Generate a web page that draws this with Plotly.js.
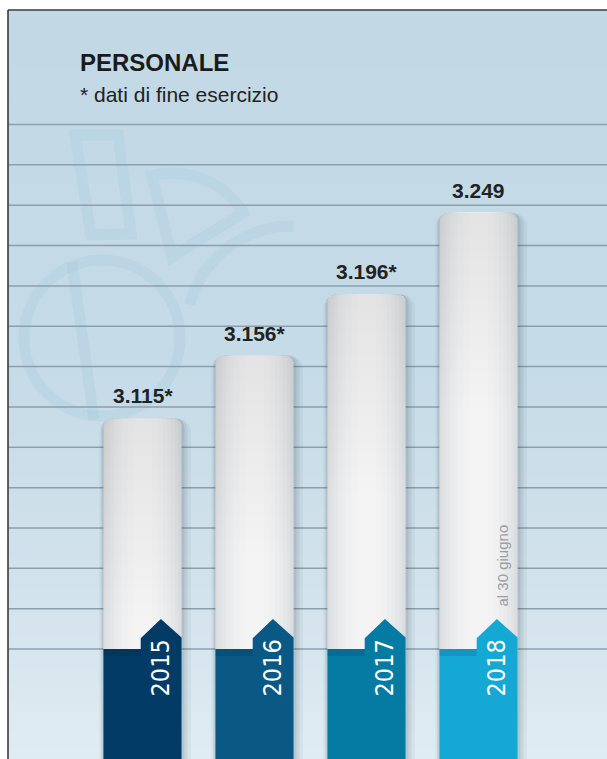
<!DOCTYPE html>
<html>
<head>
<meta charset="utf-8">
<script src="https://cdn.plot.ly/plotly-3.0.1.min.js"></script>
<style>
html,body{margin:0;padding:0;background:#fff;}
#chart{width:607px;height:759px;}
</style>
</head>
<body>
<div id="chart"></div>
<script>
// ---- data ----
const years = ['2015', '2016', '2017', '2018'];
const values = [3115, 3156, 3196, 3249];
const valueLabels = ['3.115*', '3.156*', '3.196*', '3.249'];
const yearColors = ['#023c66', '#0a5884', '#037ba3', '#14a8d4'];
const titleText = 'PERSONALE';
const subtitleText = '* dati di fine esercizio';
const noteText = 'al 30 giugno';

// ---- page geometry helpers ----
const W = 607, H = 759, ML = 8, MT = 10;
const PW = W - ML, PH = H - MT;
const py = p => (H - p) / PH;      // pixel y -> paper y
const pxp = p => (p - ML) / PW;    // pixel x -> paper x

const xs = years.map((_, i) => i);
const barW = 0.698;

// ---- traces ----
const traces = [];
function barLayer(width, color, radius, shift, heights, bases) {
  const t = {
    type: 'bar', x: xs, y: heights || values, width: width,
    offset: -width / 2 + (shift || 0),
    marker: {color: color, cornerradius: radius, line: {width: 0}},
    hoverinfo: 'skip', showlegend: false
  };
  if (bases) t.base = bases;
  traces.push(t);
}
// soft drop shadow
barLayer(barW + 0.12, 'rgba(30,55,75,0.05)', 14, 0.024);
barLayer(barW + 0.075, 'rgba(30,55,75,0.07)', 12, 0.016);
barLayer(barW + 0.035, 'rgba(30,55,75,0.10)', 10, 0.009);
// white bar body with a soft horizontal sheen
const layerW = [barW, 0.64, 0.58, 0.51, 0.44, 0.36, 0.27, 0.17];
const layerC = ['#dcdde0', '#e1e2e4', '#e5e6e8', '#e9eaeb', '#ecedee', '#eff0f1', '#f2f2f3', '#f4f4f5'];
layerW.forEach((w, k) => barLayer(w, layerC[k], Math.max(3, 8 - k), 0));
// slight greying toward the top of each bar
for (let d = 8; d <= 130; d += 8) {
  barLayer(barW, 'rgba(105,110,120,0.007)', 8, 0, values.map(() => d), values.map(v => v - d));
}

// ---- shapes ----
const shapes = [];
function hex2rgb(h) { return [1, 3, 5].map(i => parseInt(h.substr(i, 2), 16)); }
const stops = [[10, '#c2d9e5'], [360, '#c5dbe7'], [600, '#d3e3ec'], [759, '#e0ecf3']];
function bgAt(p) {
  for (let s = 0; s < stops.length - 1; s++) {
    const [a, ca] = stops[s], [b, cb] = stops[s + 1];
    if (p <= b) {
      const t = Math.max(0, (p - a) / (b - a));
      const A = hex2rgb(ca), B = hex2rgb(cb);
      return 'rgb(' + A.map((v, j) => Math.round(v + (B[j] - v) * t)).join(',') + ')';
    }
  }
  return stops[stops.length - 1][1];
}
for (let p = 10; p < 759; p += 6) {
  shapes.push({type: 'rect', xref: 'paper', yref: 'paper', x0: 0, x1: 1,
    y0: py(Math.min(759, p + 7)), y1: py(p), fillcolor: bgAt(p + 3),
    line: {width: 0}, layer: 'below'});
}
// faint logo watermark (pixel coordinates converted to paper)
const wm = {color: 'rgba(160,198,218,0.24)', width: 11};
function P(pts, close) {
  return pts.map((q, j) => (j ? 'L ' : 'M ') + pxp(q[0]) + ',' + py(q[1])).join(' ') + (close ? ' Z' : '');
}
shapes.push({type: 'path', xref: 'paper', yref: 'paper', layer: 'below', line: wm,
  path: P([[75, 135], [118, 135], [131, 234], [91, 235]], true)});
shapes.push({type: 'circle', xref: 'paper', yref: 'paper', layer: 'below', line: wm,
  x0: pxp(24), x1: pxp(180), y0: py(416), y1: py(260)});
shapes.push({type: 'path', xref: 'paper', yref: 'paper', layer: 'below', line: wm,
  path: P([[72, 262], [94, 420]], false)});
(function () {
  const cx = 172, cy = 257, r = 84, pts = [[cx, cy]];
  for (let a = -104; a <= -30; a += 4) {
    const t = a * Math.PI / 180;
    pts.push([cx + r * Math.cos(t), cy + r * Math.sin(t)]);
  }
  shapes.push({type: 'path', xref: 'paper', yref: 'paper', layer: 'below', line: wm, path: P(pts, true)});
  const cx2 = 292, cy2 = 332, r2 = 106, pts2 = [];
  for (let a = 195; a <= 272; a += 4) {
    const t = a * Math.PI / 180;
    pts2.push([cx2 + r2 * Math.cos(t), cy2 + r2 * Math.sin(t)]);
  }
  shapes.push({type: 'path', xref: 'paper', yref: 'paper', layer: 'below', line: wm, path: P(pts2, false)});
})();
// horizontal rules
for (let k = 0; k <= 13; k++) {
  const yy = py(124.5 + 40.35 * k);
  shapes.push({type: 'line', xref: 'paper', yref: 'paper', x0: 0, x1: 1, y0: yy, y1: yy,
    line: {color: '#8d9fac', width: 1.5}, layer: 'below'});
}
// coloured year bands with arrow
xs.forEach((i, k) => {
  const L = i - barW / 2, R = i + barW / 2, N = i - 0.016, A = i + 0.164;
  const path = `M ${L},${py(760)} L ${L},${py(649)} L ${N},${py(649)} L ${N},${py(638.3)} ` +
    `L ${A},${py(619)} L ${R},${py(637.5)} L ${R},${py(760)} Z`;
  shapes.push({type: 'path', xref: 'x', yref: 'paper', path: path,
    fillcolor: yearColors[k], line: {width: 0}, layer: 'above'});
  const sh = `M ${L},${py(649)} L ${N},${py(649)} L ${N},${py(656)} L ${L},${py(656)} Z`;
  shapes.push({type: 'path', xref: 'x', yref: 'paper', path: sh,
    fillcolor: 'rgba(0,0,0,0.10)', line: {width: 0}, layer: 'above'});
});
// frame
shapes.push({type: 'line', xref: 'paper', yref: 'paper', x0: 0, x1: 1, y0: 1, y1: 1,
  line: {color: '#3a3a3a', width: 1.6}, layer: 'above'});
shapes.push({type: 'line', xref: 'paper', yref: 'paper', x0: 0, x1: 0, y0: 0, y1: 1,
  line: {color: '#3a3a3a', width: 1.6}, layer: 'above'});

// ---- annotations ----
const ann = [];
ann.push({text: titleText, xref: 'paper', yref: 'paper', x: pxp(78), y: py(63),
  xanchor: 'left', yanchor: 'middle', showarrow: false,
  font: {family: 'Liberation Sans, Arial, sans-serif', size: 24, color: '#1b1b1b', weight: 'bold'}});
ann.push({text: subtitleText, xref: 'paper', yref: 'paper', x: pxp(78), y: py(94.5),
  xanchor: 'left', yanchor: 'middle', showarrow: false,
  font: {family: 'Liberation Sans, Arial, sans-serif', size: 21, color: '#222222'}});
xs.forEach((i, k) => {
  ann.push({text: valueLabels[k], xref: 'x', yref: 'y', x: i, y: values[k],
    xanchor: 'center', yanchor: 'bottom', yshift: 9, showarrow: false,
    font: {family: 'Liberation Sans, Arial, sans-serif', size: 21, color: '#222222', weight: 'bold'}});
  ann.push({text: years[k], xref: 'x', yref: 'paper', x: i + 0.165, y: py(667.5),
    xanchor: 'center', yanchor: 'middle', textangle: -90, showarrow: false,
    font: {family: 'Liberation Sans Narrow, DejaVu Sans Condensed, sans-serif', size: 25, color: '#ffffff'}});
});
ann.push({text: noteText, xref: 'x', yref: 'paper', x: xs[3] + 0.21, y: py(565.5),
  xanchor: 'center', yanchor: 'middle', textangle: -90, showarrow: false,
  font: {family: 'Liberation Sans, Arial, sans-serif', size: 15, color: '#9c9c9c'}});

const layout = {
  width: W, height: H,
  margin: {l: ML, r: 0, t: MT, b: 0, pad: 0},
  paper_bgcolor: '#ffffff', plot_bgcolor: '#c2d9e5',
  barmode: 'overlay', showlegend: false,
  xaxis: {range: [-1.2009, 4.1473], visible: false, fixedrange: true},
  yaxis: {range: [2893, 3381.2], visible: false, fixedrange: true},
  shapes: shapes, annotations: ann
};
Plotly.newPlot('chart', traces, layout, {displayModeBar: false, staticPlot: true});
</script>
</body>
</html>
